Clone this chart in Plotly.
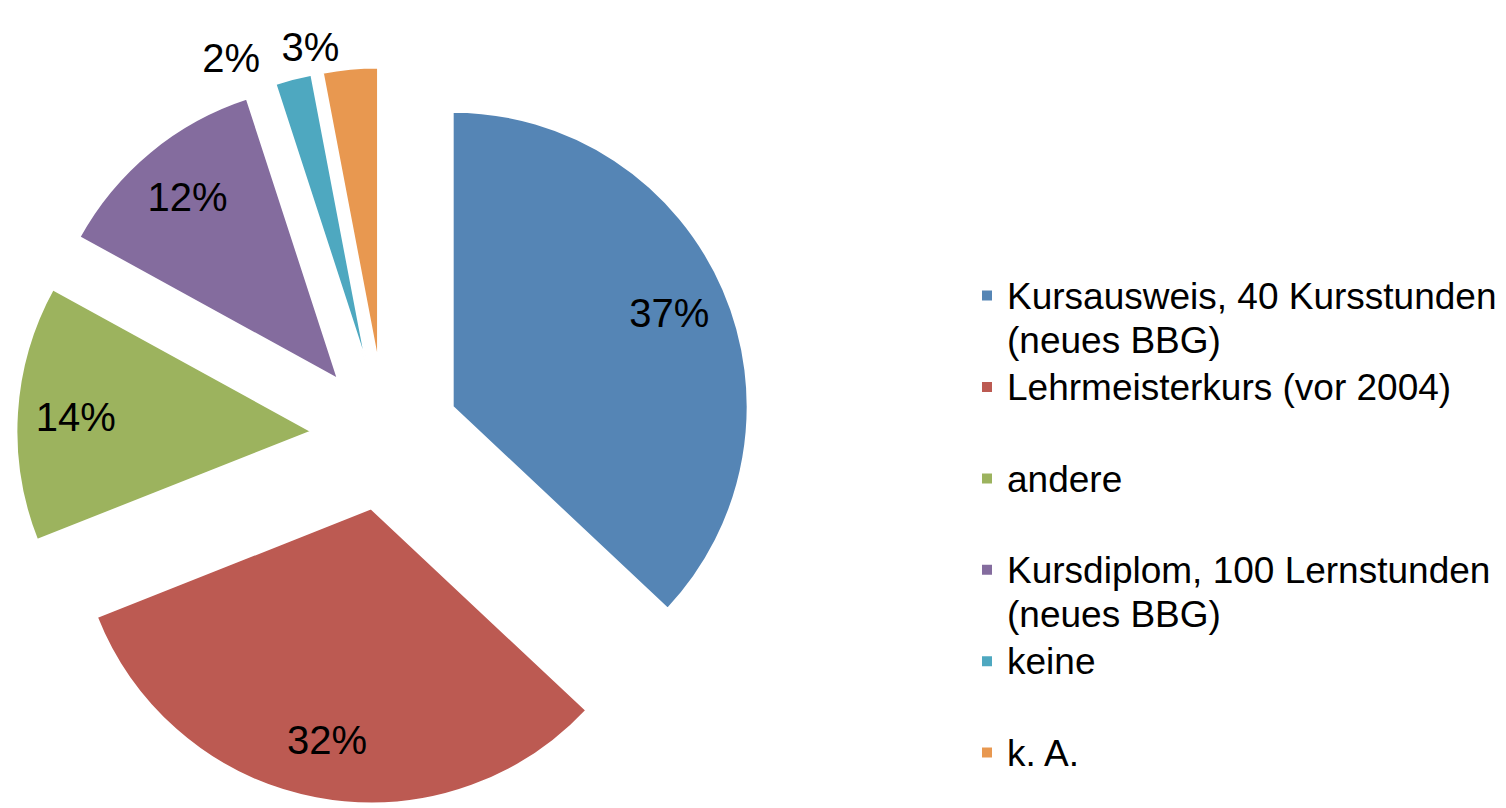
import plotly.graph_objects as go

# ---- data ----
categories = [
    "Kursausweis, 40 Kursstunden<br>(neues BBG)",
    "Lehrmeisterkurs (vor 2004)",
    "andere",
    "Kursdiplom, 100 Lernstunden<br>(neues BBG)",
    "keine",
    "k. A.",
]
shares = [37, 32, 14, 12, 2, 3]
colors = ["#5585B5", "#BC5A52", "#9CB35E", "#846C9E", "#4EA8C0", "#E89850"]

FONT = "Liberation Sans, Arial, Helvetica, sans-serif"
LEGEND_TEXT_SIZE = 37


def legend_label(cat):
    lines = cat.split("<br>")
    styled = [f'<span style="font-size:{LEGEND_TEXT_SIZE}px">{ln}</span>' for ln in lines]
    if len(styled) < 2:
        styled.append("\u00a0")  # every entry takes two lines, as in the reference
    return "<br>".join(styled)


legend_labels = [legend_label(c) for c in categories]

PULL = 0.25
DOMAIN = dict(x=[0.00548, 0.49518], y=[0.01392, 0.92667])
n = len(shares)
inside = [s >= 5 for s in shares]
small = [i for i, s in enumerate(shares) if s < 5]

fig = go.Figure()

# main pie: the slices, plus the outside label of the first small slice
# (padded on the right so it sits a little further left, away from its neighbour)
fig.add_trace(go.Pie(
    labels=legend_labels,
    values=shares,
    sort=False,
    direction="clockwise",
    rotation=0,
    pull=[PULL] * n,
    marker=dict(colors=colors, line=dict(color="white", width=2)),
    textposition=["outside" if i == small[0] else "none" for i in range(n)],
    texttemplate="%{value}%\u00a0\u00a0",
    textfont=dict(family=FONT, size=40, color="black"),
    domain=DOMAIN,
    hoverinfo="label+percent",
    showlegend=True,
))

# label layer: same slices drawn transparent; places the inside labels
# and the second small-slice label
fig.add_trace(go.Pie(
    labels=legend_labels,
    values=shares,
    sort=False,
    direction="clockwise",
    rotation=0,
    pull=[PULL] * n,
    hole=0.6,
    marker=dict(colors=["rgba(0,0,0,0)"] * n, line=dict(width=0)),
    textposition=["inside" if inside[i] else ("outside" if i in small[1:] else "none")
                  for i in range(n)],
    insidetextorientation="horizontal",
    texttemplate="%{value}%",
    textfont=dict(family=FONT, size=40, color="black"),
    domain=DOMAIN,
    hoverinfo="skip",
    showlegend=False,
))

fig.update_layout(
    width=1506,
    height=808,
    margin=dict(l=0, r=0, t=0, b=0, autoexpand=False),
    paper_bgcolor="white",
    plot_bgcolor="white",
    legend=dict(
        x=959 / 1506,
        xanchor="left",
        y=1 - 259 / 808,
        yanchor="top",
        valign="top",
        font=dict(family=FONT, size=34, color="black"),
        bgcolor="rgba(0,0,0,0)",
        traceorder="normal",
    ),
)

fig.write_html("out.html")
